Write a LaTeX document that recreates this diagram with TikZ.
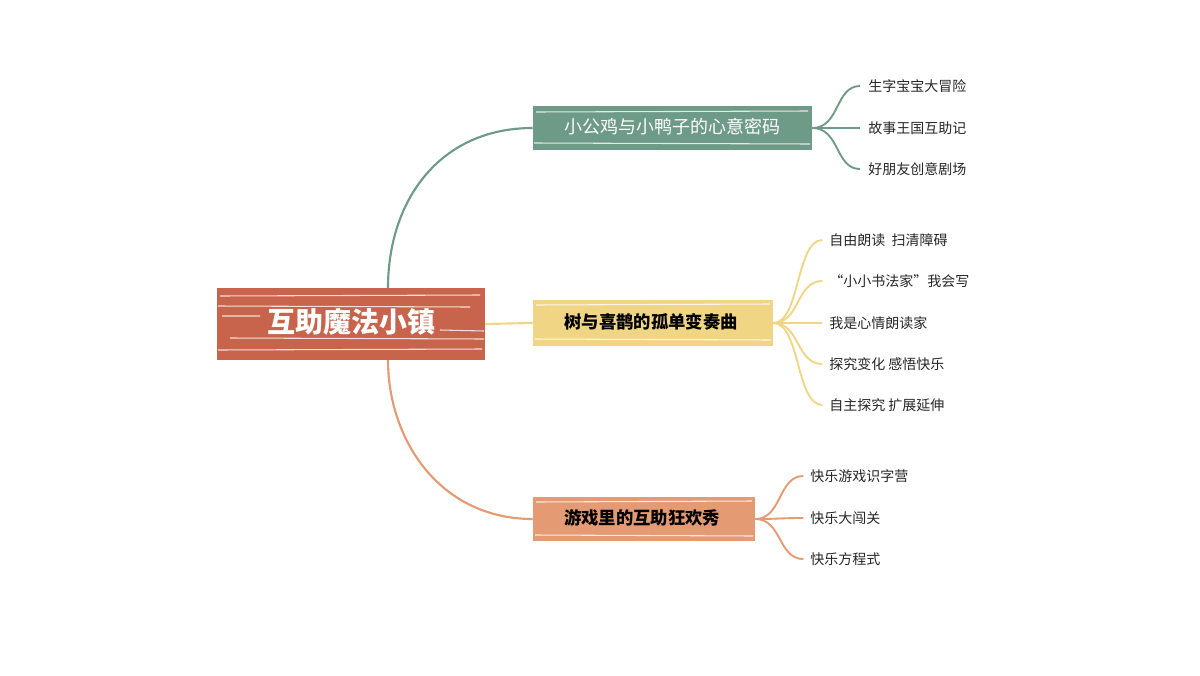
\documentclass[tikz,border=0pt]{standalone}
\usepackage{fontspec}
\setmainfont{Noto Sans CJK SC}
\begin{document}
\begin{tikzpicture}[x=0.75pt,y=-0.75pt,
  box/.style={rectangle,inner sep=0pt,anchor=center},
  leaf/.style={anchor=west,font=\fontsize{10.5}{12}\selectfont,text=black!85,inner sep=0pt},
  streak/.style={white,line width=0.8pt,opacity=0.8},
  conn/.style={line width=1.6pt}]
\definecolor{rootc}{HTML}{C8634C}
\definecolor{greenc}{HTML}{6E9A88}
\definecolor{yellc}{HTML}{F0D585}
\definecolor{orc}{HTML}{E49A72}
\useasboundingbox (0,0) rectangle (1200,675);
\coordinate (cg) at (835,0);
\coordinate (cy) at (796,0);
\coordinate (co) at (778,0);
\coordinate (rt) at (388,288);
\coordinate (rb) at (388,360);
% root
\node[box,fill=rootc,minimum width=268*0.75pt,minimum height=72*0.75pt] (root) at (351,324) {};
\draw[streak] (220,296)--(480,295) (218,306)--(470,307) (230,338)--(484,339) (218,350)--(482,349) (222,316)--(260,316) (440,330)--(484,331);
\node[font=\fontsize{21}{24}\selectfont\bfseries,text=white] (roott) at (351,322) {互助魔法小镇};
% branch nodes
\node[box,fill=greenc,minimum width=279*0.75pt,minimum height=44*0.75pt] (g) at (672.5,128) {};
\draw[streak] (536,112)--(808,111) (534,143)--(810,144);
\node[font=\fontsize{13.5}{16}\selectfont,text=white] at (672.5,127) {小公鸡与小鸭子的心意密码};
\node[box,fill=yellc,minimum width=240*0.75pt,minimum height=46*0.75pt] (y) at (653,323) {};
\draw[streak] (536,305)--(770,304) (535,339)--(771,340);
\node[font=\fontsize{13}{16}\selectfont\bfseries,text=black] at (651,322) {树与喜鹊的孤单变奏曲};
\node[box,fill=orc,minimum width=222*0.75pt,minimum height=44*0.75pt] (o) at (644,519) {};
\draw[streak] (536,502)--(752,501) (535,535)--(753,536);
\node[font=\fontsize{13}{16}\selectfont\bfseries,text=black] at (642,518) {游戏里的互助狂欢秀};
% main connectors
\draw[conn,greenc] (rt) .. controls (388,200) and (440,128) .. (g.west);
\draw[conn,yellc] (root.east) -- (y.west);
\draw[conn,orc] (rb) .. controls (388,440) and (440,519) .. (o.west);
% leaves green
\node[leaf] (g1) at (868,86) {生字宝宝大冒险};
\node[leaf] (g2) at (868,128) {故事王国互助记};
\node[leaf] (g3) at (868,169) {好朋友创意剧场};
\foreach \n in {g1,g2,g3}
  \draw[conn,greenc,line width=1.4pt] (g.east) .. controls (840,128) and (\n.west -| cg) .. ([xshift=-6pt]\n.west);
% leaves yellow
\node[leaf] (y1) at (829,240) {自由朗读\ \ 扫清障碍};
\node[leaf] (y2) at (829,281) {“小小书法家”我会写};
\node[leaf] (y3) at (829,323) {我是心情朗读家};
\node[leaf] (y4) at (829,364) {探究变化 感悟快乐};
\node[leaf] (y5) at (829,405) {自主探究 扩展延伸};
\foreach \n in {y1,y2,y3,y4,y5}
  \draw[conn,yellc,line width=1.4pt] (y.east) .. controls (800,323) and (\n.west -| cy) .. ([xshift=-5pt]\n.west);
% leaves orange
\node[leaf] (o1) at (810,476) {快乐游戏识字营};
\node[leaf] (o2) at (810,518) {快乐大闯关};
\node[leaf] (o3) at (810,559) {快乐方程式};
\foreach \n in {o1,o2,o3}
  \draw[conn,orc,line width=1.4pt] (o.east) .. controls (782,519) and (\n.west -| co) .. ([xshift=-5pt]\n.west);
\end{tikzpicture}
\end{document}
